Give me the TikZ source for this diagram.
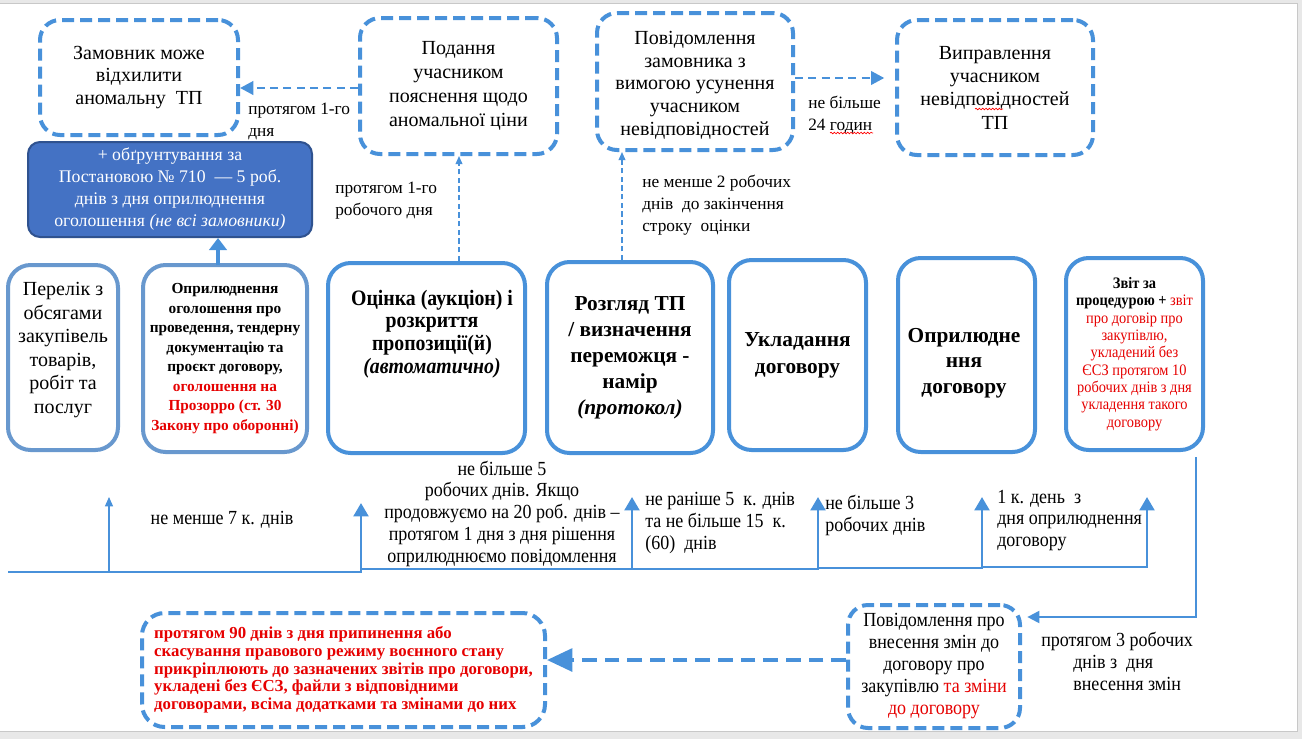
\documentclass[tikz,border=0pt]{standalone}
\usepackage{fontspec}
\setmainfont{Liberation Serif}
\newfontfamily\condfont[FakeStretch=0.9]{Liberation Serif}
\usetikzlibrary{arrows.meta,calc,decorations.pathmorphing}
\definecolor{bl}{RGB}{72,145,218}
\definecolor{bl2}{RGB}{104,152,206}
\definecolor{dkfill}{RGB}{68,114,196}
\definecolor{dkline}{RGB}{47,82,143}
\definecolor{rd}{RGB}{230,0,0}
\definecolor{framegray}{RGB}{232,232,232}
\definecolor{framegray2}{RGB}{200,200,200}
\tikzset{
  wh/.style 2 args={minimum width=#1*0.75pt, minimum height=#2*0.75pt},
  dbox/.style={draw=bl, line width=3pt, dash pattern=on 9pt off 4.5pt, rounded corners=15pt,
    inner sep=0pt, align=center, font=\fontsize{15}{17.5}\selectfont},
  sbox/.style={draw=bl, line width=3pt, rounded corners=17pt, inner sep=0pt, align=center},
  boxtxt/.style={inner sep=0pt, align=center},
  thinlbl/.style={inner sep=0pt, align=left, anchor=west, font=\fontsize{13}{16.5}\selectfont},
  condlbl/.style={inner sep=0pt, font=\condfont\fontsize{15}{16.3}\selectfont},
  dasharr/.style={draw=bl, line width=2.2pt, dash pattern=on 6pt off 4pt, -{Triangle[length=10pt,width=10pt]}},
  vdash/.style={draw=bl, line width=1pt, dash pattern=on 4pt off 2.5pt, -{Triangle[length=6pt,width=5pt]}},
  tl/.style={draw=bl, line width=2.2pt, -{Triangle[length=10pt,width=11pt]}},
  tlthin/.style={draw=bl, line width=1pt, -{Triangle[length=7pt,width=6pt]}},
  squig/.style={draw=red, line width=0.5pt, decorate, decoration={snake, amplitude=0.6pt, segment length=2.5pt}}
}
\begin{document}
\begin{tikzpicture}[x=0.75pt,y=-0.75pt]
\useasboundingbox (0,0) rectangle (1302,739);
\fill[framegray] (0,0) rectangle (1302,739);
\fill[white] (0,3) rectangle (1297,731);
\draw[framegray2, line width=0.75pt] (0,3) -- (1297,3) -- (1297,731) -- (0,731);

% ---------- top row ----------
\node[dbox, wh={198}{115}, font=\fontsize{15}{17}\selectfont] (zam) at (139,77.5) {Замовник може\\відхилити\\аномальну\ \ ТП};
\node[dbox, wh={197}{136}, font=\fontsize{15}{18}\selectfont] (pod) at (458.5,86) {Подання\\учасником\\пояснення щодо\\аномальної ціни};
\node[dbox, wh={196}{137}, font=\fontsize{15}{17}\selectfont] (pov) at (695,81.5) {};
\node[boxtxt, font=\fontsize{15}{17}\selectfont] (povt) at (695,85) {Повідомлення\\замовника з\\вимогою усунення\\учасником\\невідповідностей};
\node[dbox, wh={196}{135}] (vyp) at (995,87.5) {Виправлення\\учасником\\невідповідностей\\ТП};

\coordinate (ya) at (0,88);
\coordinate (yb) at (0,78);
\draw[dasharr] (pod.west |- ya) -- (zam.east |- ya);
\draw[dasharr, shorten >=8pt] (pov.east |- yb) -- (vyp.west |- yb);

\node[thinlbl] (l1) at (248,121) {протягом 1-го\\дня};
\node[thinlbl] (l2) at (808,114.5) {не більше\\24 годин};
\node[thinlbl] (l3) at (335,201) {протягом 1-го\\робочого дня};
\node[thinlbl] (l4) at (642,205) {не менше 2 робочих\\днів\ \ до закінчення\\строку\ \ оцінки};
\coordinate (sq1a) at (830,133); \coordinate (sq1b) at (873,133);
\draw[squig] (sq1a) -- (sq1b);
\coordinate (sq2a) at (975,109); \coordinate (sq2b) at (1003,109);
\draw[squig] (sq2a) -- (sq2b);

% dark box
\node[draw=dkline, fill=dkfill, line width=1.5pt, rounded corners=9pt, wh={284}{95}, inner sep=0pt,
  align=center, text=white, font=\fontsize{13.3}{16.5}\selectfont] (obg) at (170,189.5)
  {+ обґрунтування за\\Постановою №~710\ \ — 5 роб.\\днів з дня оприлюднення\\оголошення \textit{(не всі замовники)}};

% ---------- middle row ----------
\node[sbox, draw=bl2, wh={110}{185}] (per) at (63,357.5) {};
\node[boxtxt, font=\fontsize{15}{17.6}\selectfont] (pert) at (63,350)
  {Перелік з\\обсягами\\закупівель\\товарів,\\робіт та\\послуг};
\node[sbox, draw=bl2, wh={164}{187}, font=\fontsize{11.5}{14.6}\selectfont\bfseries] (opr) at (225,358.5)
  {Оприлюднення\\оголошення про\\проведення, тендерну\\документацію та\\проєкт договору,\\\textcolor{rd}{оголошення на}\\\textcolor{rd}{Прозорро (ст. 30}\\\textcolor{rd}{Закону про оборонні)}};
\node[sbox, wh={197}{190}] (oc) at (426.5,358) {};
\node[boxtxt, font=\condfont\fontsize{16.5}{17}\selectfont\bfseries] (octxt) at (432,334)
  {Оцінка (аукціон) і\\розкриття\\пропозиції(й)\\\textit{(автоматично)}};
\node[sbox, wh={166}{191}, font=\fontsize{16}{19.5}\selectfont\bfseries] (roz) at (630,357.5)
  {Розгляд ТП\\/ визначення\\переможця -\\намір\\\textit{(протокол)}};
\node[sbox, wh={137}{190}, font=\fontsize{16}{20}\selectfont\bfseries] (ukl) at (797.5,355)
  {Укладання\\договору};
\node[sbox, wh={137}{194}] (oprd) at (966.5,355) {};
\node[boxtxt, font=\fontsize{16}{19}\selectfont\bfseries] (oprdt) at (964,363)
  {Оприлюдне\\ння\\договору};
\node[sbox, wh={137}{192}, font=\condfont\fontsize{12}{13}\selectfont] (zvit) at (1134.5,354)
  {\textbf{Звіт за}\\\textbf{процедурою +} \textcolor{rd}{звіт}\\\textcolor{rd}{про договір про}\\\textcolor{rd}{закупівлю,}\\\textcolor{rd}{укладений без}\\\textcolor{rd}{ЄСЗ протягом 10}\\\textcolor{rd}{робочих днів з дня}\\\textcolor{rd}{укладення такого}\\\textcolor{rd}{договору}};

% connectors between rows
\draw[draw=bl, line width=3.5pt, -{Triangle[length=9pt,width=13pt]}] (218,265) coordinate (oprtop) -- (obg.south -| oprtop);
\coordinate (v1) at (459,0);
\coordinate (v2) at (622,0);
\draw[vdash] (oc.north -| v1) -- (pod.south -| v1);
\draw[vdash] (roz.north -| v2) -- (pov.south -| v2);

% ---------- timeline ----------
\coordinate (t0) at (8,572);
\coordinate (a1b) at (109,572); \coordinate (a1t) at (109,497);
\coordinate (a2b) at (361,572); \coordinate (a2t) at (361,503);
\coordinate (a2s) at (361,569);
\coordinate (a3b) at (632,569); \coordinate (a3t) at (632,497);
\coordinate (a4b) at (818,569); \coordinate (a4t) at (818,497);
\coordinate (a4s) at (818,568);
\coordinate (a5b) at (982,568); \coordinate (a5t) at (982,497);
\coordinate (a5s) at (982,567);
\coordinate (a6b) at (1147,567); \coordinate (a6t) at (1147,497);
\draw[tl] (t0) -- (a2b) -- (a2t);
\draw[tlthin] (a1b) -- (a1t);
\draw[tl] (a2s) -- (a3b) -- (a3t);
\draw[tl] (a3b) -- (a4b) -- (a4t);
\draw[tl] (a4s) -- (a5b) -- (a5t);
\draw[tl] (a5s) -- (a6b) -- (a6t);

\node[condlbl] (b1) at (222,520) {не менше 7 к. днів};
\node[condlbl, align=center] (b2) at (502,513.5) {не більше 5\\робочих днів. Якщо\\продовжуємо на 20 роб. днів –\\протягом 1 дня з дня рішення\\оприлюднюємо повідомлення};
\node[condlbl, align=left, anchor=west] (b3) at (645,523) {не раніше 5\ \ к. днів\\та не більше 15\ \ к.\\(60)\ \ днів};
\node[condlbl, align=left, anchor=west] (b4) at (825,515.5) {не більше 3\\робочих днів};
\node[condlbl, align=left, anchor=west] (b5) at (997,520.5) {1 к. день\ \ з\\дня оприлюднення\\договору};

% ---------- bottom ----------
\node[dbox, wh={172}{123}, font=\condfont\fontsize{15}{16.5}\selectfont] (bz) at (934,666.5)
  {Повідомлення про\\внесення змін до\\договору про\\закупівлю \textcolor{rd}{та зміни}\\\textcolor{rd}{до договору}};
\node[dbox, wh={403}{114}, rounded corners=17pt, align=left, text=rd, font=\fontsize{12.6}{13.3}\selectfont\bfseries] (red) at (343.5,670)
  {протягом 90 днів з дня припинення або\\скасування правового режиму воєнного стану\\прикріплюють до зазначених звітів про договори,\\укладені без ЄСЗ, файли з відповідними\\договорами, всіма додатками та змінами до них};

\coordinate (r0) at (1196,457);
\coordinate (r1) at (1196,617);
\draw[draw=bl, line width=1.5pt, -{Triangle[length=9pt,width=9pt]}, shorten >=4pt] (r0) -- (r1) -- (bz.east |- r1);
\node[condlbl, align=left, anchor=west] (b6) at (1041,661.5) {протягом 3 робочих\\\hspace*{24pt}днів з\ \ дня\\\hspace*{24pt}внесення змін};

\coordinate (yc) at (0,660);
\draw[draw=bl, line width=3pt, dash pattern=on 11pt off 6pt, -{Triangle[length=19pt,width=17pt]}] (bz.west |- yc) -- (red.east |- yc);
\end{tikzpicture}
\end{document}
